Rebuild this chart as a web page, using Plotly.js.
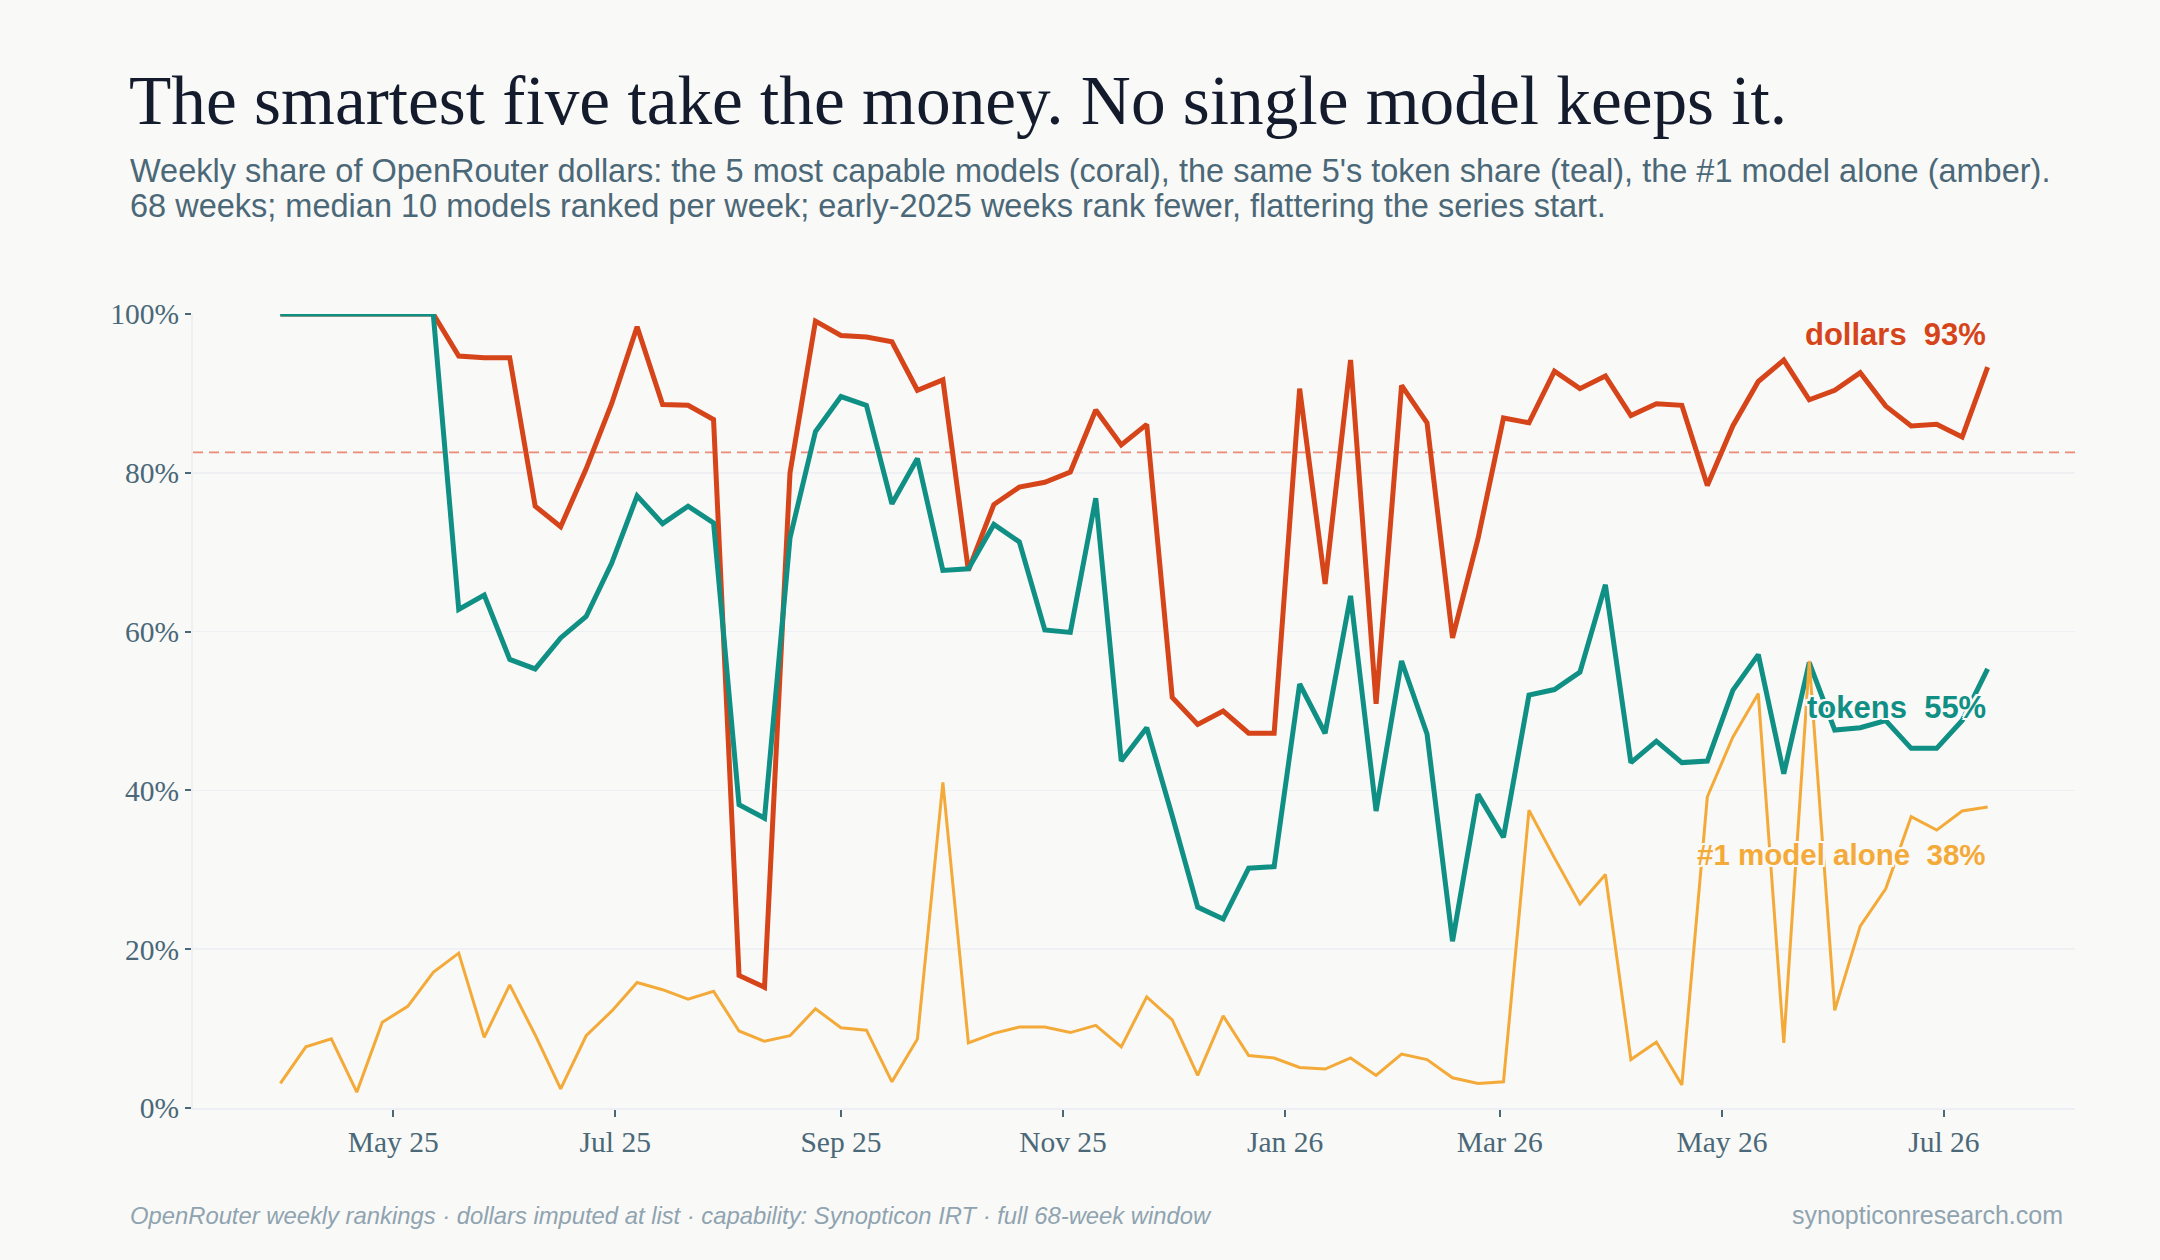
<!DOCTYPE html>
<html>
<head>
<meta charset="utf-8">
<script src="https://cdn.plot.ly/plotly-3.0.1.min.js"></script>
<style>
html,body{margin:0;padding:0;background:#f9f9f7;}
#chart{width:2160px;height:1260px;}
</style>
</head>
<body>
<div id="chart"></div>
<script>
// Weekly dates (Monday of each week), 68 weeks
const weeks = [
 "2025-03-31","2025-04-07","2025-04-14","2025-04-21","2025-04-28",
 "2025-05-05","2025-05-12","2025-05-19","2025-05-26",
 "2025-06-02","2025-06-09","2025-06-16","2025-06-23","2025-06-30",
 "2025-07-07","2025-07-14","2025-07-21","2025-07-28",
 "2025-08-04","2025-08-11","2025-08-18","2025-08-25",
 "2025-09-01","2025-09-08","2025-09-15","2025-09-22","2025-09-29",
 "2025-10-06","2025-10-13","2025-10-20","2025-10-27",
 "2025-11-03","2025-11-10","2025-11-17","2025-11-24",
 "2025-12-01","2025-12-08","2025-12-15","2025-12-22","2025-12-29",
 "2026-01-05","2026-01-12","2026-01-19","2026-01-26",
 "2026-02-02","2026-02-09","2026-02-16","2026-02-23",
 "2026-03-02","2026-03-09","2026-03-16","2026-03-23","2026-03-30",
 "2026-04-06","2026-04-13","2026-04-20","2026-04-27",
 "2026-05-04","2026-05-11","2026-05-18","2026-05-25",
 "2026-06-01","2026-06-08","2026-06-15","2026-06-22","2026-06-29",
 "2026-07-06","2026-07-13"
];

// Top-5 most capable models: share of dollars (%)
const dollarsShare = [
 100,100,100,100,100,100,100,94.7,94.5,94.5,
 75.8,73.2,80.5,88.7,98.4,88.6,88.5,86.7,16.7,15.2,
 80.0,99.1,97.3,97.1,96.5,90.4,91.7,67.7,76.0,78.2,
 78.8,80.1,87.9,83.5,86.1,51.7,48.3,50.0,47.2,47.2,
 90.6,66.0,94.2,50.9,91.0,86.3,59.2,71.7,86.9,86.3,
 92.8,90.6,92.2,87.2,88.7,88.5,78.4,85.9,91.5,94.2,
 89.2,90.4,92.6,88.4,85.9,86.1,84.5,93.3
];

// Same 5 models: share of tokens (%)
const tokensShare = [
 100,100,100,100,100,100,100,62.8,64.6,56.5,
 55.3,59.2,61.9,68.6,77.1,73.6,75.8,73.7,38.2,36.5,
 71.8,85.2,89.6,88.5,76.1,81.8,67.7,67.9,73.5,71.3,
 60.2,59.9,76.8,43.7,47.9,36.8,25.3,23.8,30.2,30.4,
 53.4,47.2,64.5,37.4,56.3,47.1,21.0,39.5,34.1,52.0,
 52.7,54.9,65.9,43.5,46.2,43.5,43.7,52.6,57.1,42.1,
 56.1,47.6,47.9,48.8,45.3,45.3,48.8,55.3
];

// #1 model alone: share of dollars (%)
const topModelShare = [
 3.1,7.7,8.7,2.0,10.8,12.8,17.1,19.5,8.9,15.5,
 9.2,2.4,9.1,12.2,15.8,14.9,13.7,14.7,9.7,8.4,
 9.1,12.5,10.1,9.8,3.3,8.7,41.0,8.2,9.4,10.2,
 10.2,9.5,10.4,7.7,14.0,11.1,4.1,11.6,6.6,6.3,
 5.1,4.9,6.3,4.1,6.8,6.1,3.8,3.1,3.3,37.5,
 31.5,25.7,29.4,6.1,8.3,2.9,39.2,46.7,52.2,8.2,
 56.3,12.3,22.9,27.6,36.7,35.0,37.4,37.9
];

const seriesNames = ["dollars", "tokens", "#1 model alone"];
const yTickVals = [0, 20, 40, 60, 80, 100];
const yTickText = ["0%", "20%", "40%", "60%", "80%", "100%"];

const BG = "#f9f9f7";
const RED = "#d6441a";
const TEAL = "#108f84";
const AMBER = "#f4aa38";

const meanDollars = dollarsShare.reduce((a, b) => a + b, 0) / dollarsShare.length;
const lastIdx = weeks.length - 1;
const lastDate = weeks[lastIdx];

const traces = [
  {x: weeks, y: dollarsShare, type: "scatter", mode: "lines", name: seriesNames[0],
   line: {color: RED, width: 5}, hoverinfo: "skip"},
  {x: weeks, y: tokensShare, type: "scatter", mode: "lines", name: seriesNames[1],
   line: {color: TEAL, width: 5}, hoverinfo: "skip"},
  {x: weeks, y: topModelShare, type: "scatter", mode: "lines", name: seriesNames[2],
   line: {color: AMBER, width: 3}, hoverinfo: "skip"}
];

const halo = `-2px -2px 0 ${BG}, 2px -2px 0 ${BG}, -2px 2px 0 ${BG}, 2px 2px 0 ${BG}, 0 2px 0 ${BG}, 0 -2px 0 ${BG}, 2px 0 0 ${BG}, -2px 0 0 ${BG}`;
function endLabel(txt, val, color, shift, size) {
  return {x: lastDate, y: val, xref: "x", yref: "y", text: txt,
    showarrow: false, xanchor: "right", yanchor: "middle", yshift: shift,
    font: {family: "Liberation Sans, Arial, sans-serif", size: size, color: color, weight: 700, shadow: halo}};
}

const tickFont = {family: "Liberation Serif, Georgia, serif", size: 29.5, color: "#4a6878"};
const subFont = {family: "Liberation Sans, Arial, sans-serif", size: 32.5, color: "#4b6878"};
const px2x = p => (p - 193) / 1882;
const py2y = p => (1108 - p) / 794;

const layout = {
  width: 2160, height: 1260,
  paper_bgcolor: BG, plot_bgcolor: BG,
  margin: {l: 193, r: 85, t: 314, b: 152},
  showlegend: false,
  title: {
    text: "The smartest five take the money. No single model keeps it.",
    xref: "container", yref: "container", x: 129/2160, xanchor: "left",
    y: 1 - 100/1260, yanchor: "middle",
    font: {family: "Liberation Serif, Georgia, serif", size: 69.3, color: "#141b2d"}
  },
  xaxis: {
    type: "date",
    range: ["2025-03-07", "2026-08-06"],
    tick0: "2025-05-01", dtick: "M2", tickformat: "%b %y",
    showgrid: false, zeroline: false,
    showline: true, linecolor: "#eceff3", linewidth: 2,
    ticks: "outside", ticklen: 7, tickwidth: 2, tickcolor: "#4a6878",
    tickfont: tickFont
  },
  yaxis: {
    range: [0, 100], tickmode: "array", tickvals: yTickVals, ticktext: yTickText,
    showgrid: true, gridcolor: "#eef0f3", gridwidth: 1.5, zeroline: false,
    showline: true, linecolor: "#eceff3", linewidth: 2,
    ticks: "outside", ticklen: 6, tickwidth: 2, tickcolor: "#4a6878",
    tickfont: tickFont
  },
  shapes: [{
    type: "line", xref: "paper", x0: 0, x1: 1, yref: "y", y0: meanDollars, y1: meanDollars,
    line: {color: "#ec8a76", width: 1.8, dash: "10px,6px"}, layer: "below"
  }],
  annotations: [
    {xref: "paper", yref: "paper", x: px2x(128), y: py2y(171), xanchor: "left", yanchor: "middle",
     showarrow: false, align: "left",
     text: "Weekly share of OpenRouter dollars: the 5 most capable models (coral), the same 5's token share (teal), the #1 model alone (amber).",
     font: subFont},
    {xref: "paper", yref: "paper", x: px2x(128), y: py2y(206), xanchor: "left", yanchor: "middle",
     showarrow: false, align: "left",
     text: "68 weeks; median 10 models ranked per week; early-2025 weeks rank fewer, flattering the series start.",
     font: subFont},
    {xref: "paper", yref: "paper", x: px2x(128), y: py2y(1215), xanchor: "left", yanchor: "middle",
     showarrow: false,
     text: "OpenRouter weekly rankings · dollars imputed at list · capability: Synopticon IRT · full 68-week window",
     font: {family: "Liberation Sans, Arial, sans-serif", size: 23.8, color: "#8fa3b0", style: "italic"}},
    {xref: "paper", yref: "paper", x: px2x(2065), y: py2y(1215), xanchor: "right", yanchor: "middle",
     showarrow: false,
     text: "synopticonresearch.com",
     font: {family: "Liberation Sans, Arial, sans-serif", size: 25, color: "#8fa3b0"}},
    endLabel("dollars  " + Math.round(dollarsShare[lastIdx]) + "%", dollarsShare[lastIdx], RED, 33, 31),
    endLabel("tokens  " + Math.round(tokensShare[lastIdx]) + "%", tokensShare[lastIdx], TEAL, -39, 31),
    endLabel("#1 model alone  " + Math.round(topModelShare[lastIdx]) + "%", topModelShare[lastIdx], AMBER, -47, 29.5)
  ]
};

Plotly.newPlot("chart", traces, layout, {displayModeBar: false, staticPlot: true});
</script>
</body>
</html>
